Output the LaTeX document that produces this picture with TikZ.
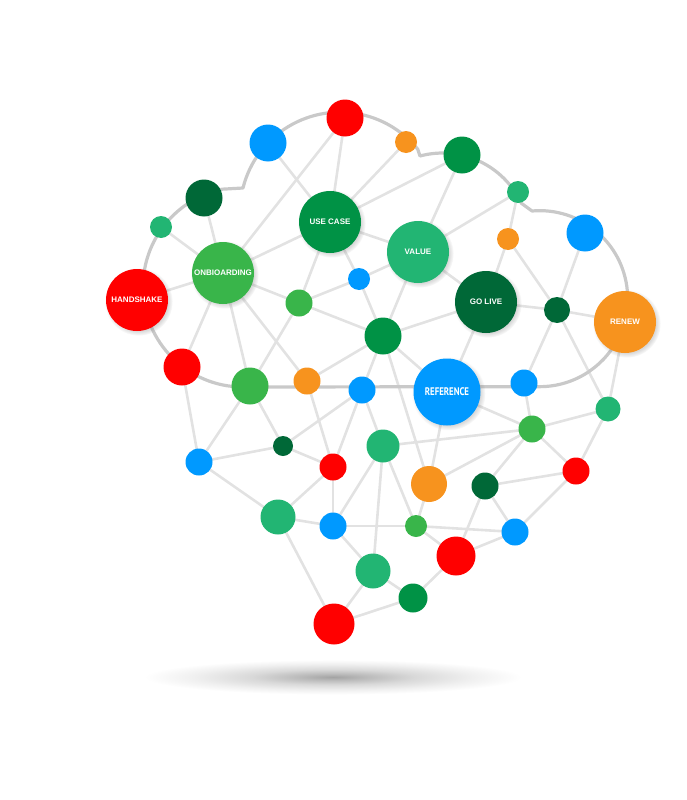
\documentclass[tikz,border=0pt]{standalone}
\usepackage{fontspec}
\setmainfont{Liberation Sans}
\newfontfamily\condfont{PT Sans}
\usetikzlibrary{shadows,backgrounds}
\definecolor{cred}{HTML}{FF0000}
\definecolor{cblue}{HTML}{0099FF}
\definecolor{corange}{HTML}{F7931E}
\definecolor{cgreen}{HTML}{39B54A}
\definecolor{cmgreen}{HTML}{009245}
\definecolor{cdgreen}{HTML}{006837}
\definecolor{cteal}{HTML}{22B573}
\definecolor{edgec}{HTML}{E2E2E2}
\definecolor{outc}{HTML}{C9C9C9}
\pgfdeclareradialshading{softshadow}{\pgfpoint{0bp}{0bp}}{%
  color(0bp)=(black!36); color(4bp)=(black!27); color(10bp)=(black!15);
  color(17bp)=(black!6); color(23bp)=(white); color(25bp)=(white); color(50bp)=(white)}
\tikzset{
  dot/.style={circle, inner sep=0pt, draw=none},
  big/.style={dot, minimum size=62pt, text=white, font=\bfseries\fontsize{8}{9}\selectfont,
    circular drop shadow={shadow xshift=1.5pt, shadow yshift=-1.5pt, opacity=0.3}},
  link/.style={draw=edgec, line width=2.6pt},
  outline/.style={draw=outc, line width=3.2pt, line join=round}
}
\begin{document}
\begin{tikzpicture}[x=1pt,y=-1pt]
\useasboundingbox (0,0) rectangle (686,800);
% nodes
\node[dot, fill=cred,    minimum size=37pt] (n1) at (345,118) {};
\node[dot, fill=cblue,   minimum size=37pt] (n2) at (268,143) {};
\node[dot, fill=corange, minimum size=22pt] (n3) at (406,142) {};
\node[dot, fill=cmgreen, minimum size=37pt] (n4) at (462,155) {};
\node[dot, fill=cdgreen, minimum size=37pt] (n5) at (204,198) {};
\node[dot, fill=cteal,   minimum size=22pt] (n6) at (161,227) {};
\node[dot, fill=cteal,   minimum size=22pt] (n7) at (518,192) {};
\node[big, fill=cmgreen] (n8) at (330,222) {USE CASE};
\node[big, fill=cteal]   (n9) at (418,252) {VALUE};
\node[dot, fill=corange, minimum size=22pt] (n10) at (508,239) {};
\node[dot, fill=cblue,   minimum size=37pt] (n11) at (585,233) {};
\node[big, fill=cgreen]  (n12) at (223,273) {ONBIOARDING};
\node[big, fill=cred]    (n13) at (137,300) {HANDSHAKE};
\node[dot, fill=cblue,   minimum size=22pt] (n14) at (359,279) {};
\node[dot, fill=cgreen,  minimum size=27pt] (n15) at (299,303) {};
\node[big, fill=cdgreen] (n16) at (486,302) {GO LIVE};
\node[dot, fill=cdgreen, minimum size=26pt] (n17) at (557,310) {};
\node[big, fill=corange] (n18) at (625,322) {RENEW};
\node[dot, fill=cmgreen, minimum size=37pt] (n19) at (383,336) {};
\node[dot, fill=cred,    minimum size=37pt] (n20) at (182,367) {};
\node[dot, fill=cgreen,  minimum size=37pt] (n21) at (250,386) {};
\node[dot, fill=corange, minimum size=27pt] (n22) at (307,381) {};
\node[dot, fill=cblue,   minimum size=27pt] (n23) at (362,390) {};
\node[big, fill=cblue, minimum size=67pt, font={}] (n24) at (447,392)
  {\scalebox{0.8}[1]{\condfont\bfseries\fontsize{11}{11}\selectfont REFERENCE}};
\node[dot, fill=cblue,   minimum size=27pt] (n25) at (524,383) {};
\node[dot, fill=cteal,   minimum size=25pt] (n26) at (608,409) {};
\node[dot, fill=cgreen,  minimum size=27pt] (n27) at (532,429) {};
\node[dot, fill=cdgreen, minimum size=20pt] (n28) at (283,446) {};
\node[dot, fill=cteal,   minimum size=33pt] (n29) at (383,446) {};
\node[dot, fill=cblue,   minimum size=27pt] (n30) at (199,462) {};
\node[dot, fill=cred,    minimum size=27pt] (n31) at (333,467) {};
\node[dot, fill=corange, minimum size=36pt] (n32) at (429,484) {};
\node[dot, fill=cdgreen, minimum size=27pt] (n33) at (485,486) {};
\node[dot, fill=cred,    minimum size=27pt] (n34) at (576,471) {};
\node[dot, fill=cteal,   minimum size=35pt] (n35) at (278,517) {};
\node[dot, fill=cblue,   minimum size=27pt] (n36) at (333,526) {};
\node[dot, fill=cgreen,  minimum size=22pt] (n37) at (416,526) {};
\node[dot, fill=cblue,   minimum size=27pt] (n38) at (515,532) {};
\node[dot, fill=cred,    minimum size=39pt] (n39) at (456,556) {};
\node[dot, fill=cteal,   minimum size=35pt] (n40) at (373,571) {};
\node[dot, fill=cmgreen, minimum size=29pt] (n41) at (413,598) {};
\node[dot, fill=cred,    minimum size=41pt] (n42) at (334,624) {};
\begin{scope}[on background layer]
  \shade[shading=softshadow] (333,677) ellipse [x radius=205pt, y radius=19pt];
  \foreach \a/\b in {n1/n8,n1/n12,n2/n8,n3/n8,n4/n8,n4/n9,n5/n12,n6/n12,n7/n9,n7/n10,
    n10/n16,n10/n17,n8/n9,n8/n12,n8/n14,n8/n15,n9/n14,n9/n19,n9/n16,n11/n17,
    n12/n13,n12/n15,n12/n20,n12/n21,n12/n22,n14/n15,n14/n19,n15/n19,n15/n21,
    n16/n17,n16/n19,n16/n24,n17/n18,n17/n25,n17/n26,n18/n26,n19/n22,n19/n23,
    n19/n24,n19/n32,n20/n30,n21/n30,n21/n28,n22/n31,n23/n28,n23/n31,n23/n29,
    n24/n27,n24/n32,n25/n27,n26/n27,n26/n34,n27/n29,n27/n32,n27/n33,n27/n34,
    n28/n30,n28/n31,n29/n36,n29/n37,n29/n40,n30/n35,n31/n35,n31/n36,n32/n37,
    n33/n34,n33/n38,n33/n39,n34/n38,n35/n36,n35/n42,n36/n37,n36/n40,n37/n38,
    n37/n39,n38/n39,n39/n41,n40/n41,n40/n42,n41/n42}
    \draw[link] (\a.center) -- (\b.center);
  \draw[outline] (243,188) arc[start angle=166, end angle=39, radius=100pt]
    -- (420,156) arc[start angle=105, end angle=25, radius=87pt]
    -- (532,211) arc[start angle=95, end angle=-90, radius=88pt]
    -- (243,387) arc[start angle=270, end angle=102, radius=100pt] -- cycle;
\end{scope}
\end{tikzpicture}
\end{document}
